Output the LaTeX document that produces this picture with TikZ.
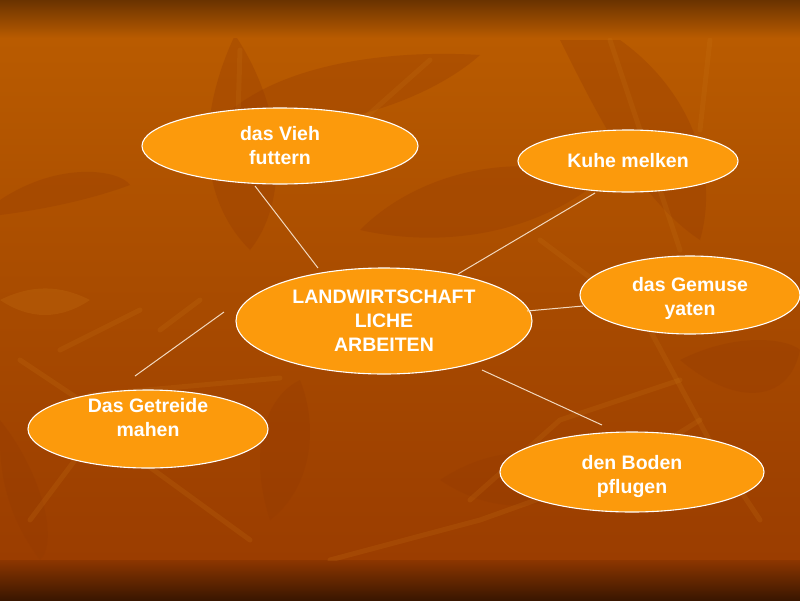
\documentclass[tikz,border=0pt]{standalone}
\usepackage{fontspec}
\setmainfont{Liberation Sans}
\usetikzlibrary{shapes.geometric}
\begin{document}
\begin{tikzpicture}[x=1pt,y=-1pt,
  bubble/.style={ellipse,draw=white,line width=1.1pt,fill=bubfill,inner sep=0pt},
  lbl/.style={align=center,text=white,font=\bfseries\fontsize{19.5}{24}\selectfont,inner sep=0pt},
  conn/.style={draw=linecol,line width=1pt},
  leafA/.style={fill=leafdark,fill opacity=.3,draw=none},
  leafB/.style={fill=leaflight,fill opacity=.25,draw=none},
  vein/.style={draw=leaflight,line width=5pt,opacity=.2,line cap=round}]
\definecolor{bubfill}{HTML}{FC9A0C}
\definecolor{linecol}{HTML}{F2D9C0}
\definecolor{bgtop}{HTML}{6A3300}
\definecolor{bgA}{HTML}{B95B00}
\definecolor{bgB}{HTML}{A84B00}
\definecolor{bgC}{HTML}{9B3D00}
\definecolor{bgend}{HTML}{3A1600}
\definecolor{bgbot}{HTML}{8C3600}
\definecolor{leafdark}{HTML}{943A00}
\definecolor{leaflight}{HTML}{C87414}
\useasboundingbox (0,0) rectangle (800,600);
% background
\fill[top color=bgA,bottom color=bgC,middle color=bgB] (0,38) rectangle (800,562);
\fill[top color=bgtop,bottom color=bgA] (0,0) rectangle (800,38);
\fill[top color=bgbot,bottom color=bgend] (0,560) rectangle (800,600);
% decorative leaves
\begin{scope}
\clip (0,38) rectangle (800,560);
\path[leafA] (235,35) .. controls (195,120) and (200,200) .. (250,250) .. controls (290,200) and (285,110) .. (235,35);
\path[leafA] (220,120) .. controls (280,60) and (400,50) .. (480,55) .. controls (430,100) and (320,140) .. (220,120);
\path[leafA] (0,200) .. controls (60,160) and (120,170) .. (130,185) .. controls (90,200) and (40,210) .. (0,215);
\path[leafA] (360,230) .. controls (420,170) and (520,150) .. (600,180) .. controls (540,230) and (450,250) .. (360,230);
\path[leafA] (560,40) .. controls (600,120) and (640,200) .. (700,240) .. controls (720,170) and (690,90) .. (620,40);
\path[leafA] (270,520) .. controls (250,460) and (260,400) .. (300,380) .. controls (320,430) and (310,490) .. (270,520);
\path[leafA] (0,420) .. controls (40,470) and (60,540) .. (40,560) .. controls (10,520) and (0,480) .. (0,440);
\path[leafA] (440,480) .. controls (500,440) and (560,450) .. (600,470) .. controls (560,510) and (500,520) .. (440,480);
\path[leafA] (680,360) .. controls (740,330) and (790,340) .. (800,350) .. controls (790,400) and (740,410) .. (680,360);
\path[leafB] (0,300) .. controls (40,280) and (70,290) .. (90,300) .. controls (60,320) and (30,320) .. (0,300);
\path[vein] (240,50) -- (236,180);
\path[vein] (430,60) -- (340,140);
\path[vein] (20,360) -- (110,420);
\path[vein] (90,395) -- (280,378);
\path[vein] (60,350) -- (140,310);
\path[vein] (160,330) -- (200,300);
\path[vein] (330,560) -- (480,520) -- (620,470) -- (700,420);
\path[vein] (470,500) -- (560,420) -- (680,380);
\path[vein] (650,330) -- (720,460) -- (760,520);
\path[vein] (700,130) -- (710,40);
\path[vein] (610,40) -- (680,250);
\path[vein] (140,460) -- (250,540);
\path[vein] (30,520) -- (90,440);
\path[vein] (540,240) -- (620,300);
\end{scope}
% bubbles
\node[bubble,minimum width=276pt,minimum height=76pt] (vieh) at (280,146) {};
\node[bubble,minimum width=220pt,minimum height=62pt] (kuhe) at (628,161) {};
\node[bubble,minimum width=220pt,minimum height=78pt] (gemuse) at (690,295) {};
\node[bubble,minimum width=296pt,minimum height=106pt] (center) at (384,321) {};
\node[bubble,minimum width=240pt,minimum height=78pt] (getreide) at (148,429) {};
\node[bubble,minimum width=264pt,minimum height=80pt] (boden) at (632,472) {};
% labels
\node[lbl] (viehT) at (280,146) {das Vieh\\futtern};
\node[lbl] (kuheT) at (628,161) {Kuhe melken};
\node[lbl] (gemuseT) at (690,298) {das Gemuse\\yaten};
\node[lbl] (centerT) at (384,321) {LANDWIRTSCHAFT\\LICHE\\ARBEITEN};
\node[lbl] (getreideT) at (148,418) {Das Getreide\\mahen};
\node[lbl] (bodenT) at (632,476) {den Boden\\pflugen};
% connector endpoints
\coordinate (c1) at (255,186); \coordinate (c2) at (318,268);
\coordinate (c3) at (595,193); \coordinate (c4) at (458,274);
\coordinate (c5) at (583,306); \coordinate (c6) at (527,311);
\coordinate (c7) at (135,376); \coordinate (c8) at (224,312);
\coordinate (c9) at (482,370); \coordinate (c10) at (602,425);
\draw[conn] (c1) -- (c2);
\draw[conn] (c3) -- (c4);
\draw[conn] (c5) -- (c6);
\draw[conn] (c7) -- (c8);
\draw[conn] (c9) -- (c10);
\end{tikzpicture}
\end{document}
